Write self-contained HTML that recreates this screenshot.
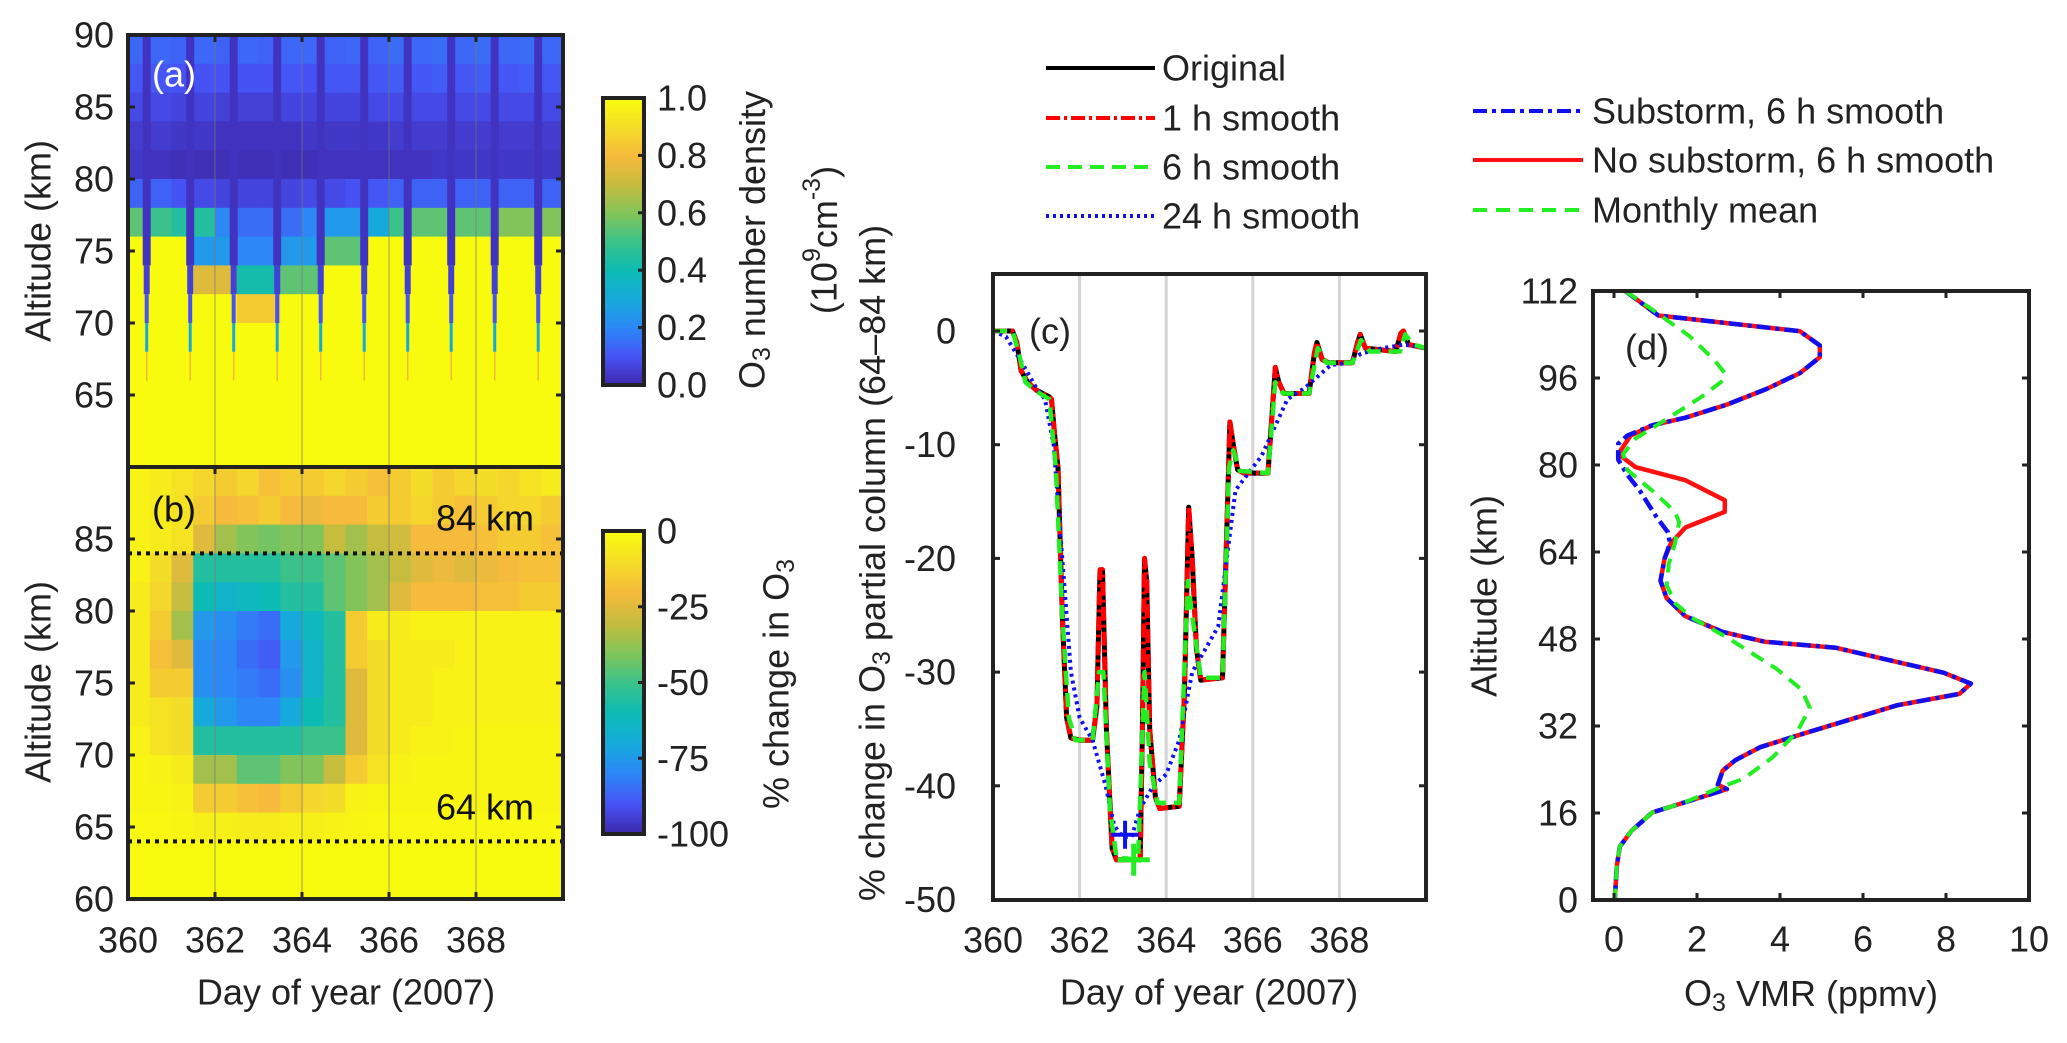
<!DOCTYPE html>
<html><head><meta charset="utf-8"><style>
html,body{margin:0;padding:0;background:#fff;}
svg{display:block;font-family:"Liberation Sans",Arial,sans-serif;}
</style></head><body>
<svg id="fig" width="2067" height="1043" viewBox="0 0 2067 1043" xmlns="http://www.w3.org/2000/svg">
<g id="gA"></g>
<g id="gB"></g>
<g id="gC"></g>
<g id="gD"></g>
<g id="gL"></g>
</svg>
<script>
// ---------- Panel (a) data: O3 number density, rows from 88-90 km down to 60-62 km, half-day columns ----------
const aAltRows=[88,86,84,82,80,78,76,74,72,70,68,66,64,62,60];
const aRow88=[0.14,0.14,0.13,0.14,0.13,0.14,0.13,0.14,0.14,0.13,0.14,0.13,0.15,0.14,0.15,0.14,0.15,0.14,0.15,0.14];
const aRow86=[0.11,0.11,0.1,0.1,0.1,0.1,0.1,0.11,0.1,0.11,0.11,0.11,0.12,0.11,0.12,0.11,0.12,0.11,0.12,0.11];
const aRow84=[0.08,0.08,0.07,0.07,0.06,0.06,0.06,0.07,0.07,0.07,0.07,0.08,0.08,0.08,0.08,0.08,0.08,0.08,0.08,0.08];
const aRow82=[0.05,0.05,0.04,0.04,0.03,0.03,0.03,0.03,0.04,0.04,0.04,0.04,0.05,0.05,0.05,0.05,0.05,0.05,0.05,0.05];
const aRow80=[0.04,0.03,0.02,0.02,0.02,0.02,0.02,0.02,0.02,0.03,0.03,0.03,0.03,0.03,0.04,0.04,0.04,0.04,0.04,0.04];
const aRow78=[0.13,0.13,0.1,0.08,0.07,0.07,0.07,0.07,0.08,0.08,0.1,0.11,0.13,0.13,0.13,0.13,0.13,0.13,0.13,0.13];
const aRow76=[0.55,0.5,0.45,0.45,0.2,0.15,0.15,0.15,0.2,0.25,0.25,0.3,0.5,0.55,0.55,0.55,0.55,0.6,0.6,0.6];
const aRow74=[1,1,1,0.25,0.25,0.2,0.2,0.25,0.25,0.55,0.55,1,1,1,1,1,1,1,1,1];
const aRow72=[1,1,1,0.75,0.75,0.42,0.42,0.55,0.55,1,1,1,1,1,1,1,1,1,1,1];
const aRow70=[1,1,1,1,1,0.85,0.85,1,1,1,1,1,1,1,1,1,1,1,1,1];
const aRowLow=[1,1,1,1,1,1,1,1,1,1,1,1,1,1,1,1,1,1,1,1];
const aRows=[aRow88,aRow86,aRow84,aRow82,aRow80,aRow78,aRow76,aRow74,aRow72,aRow70,aRowLow,aRowLow,aRowLow,aRowLow,aRowLow];
const nightDays=[360.43,361.43,362.43,363.43,364.43,365.43,366.43,367.43,368.43,369.43];
const aTicks=[65,70,75,80,85,90];
const cbATicks=["0.0","0.2","0.4","0.6","0.8","1.0"];

// ---------- Panel (b) data: % change in O3 ----------
const bRow88=[-3,-5,-8,-12,-15,-12,-18,-15,-15,-12,-15,-18,-15,-10,-15,-12,-10,-12,-8,-5];
const bRow86=[-3,-5,-8,-15,-20,-18,-15,-20,-22,-20,-20,-15,-15,-12,-15,-18,-15,-12,-12,-15];
const bRow84=[-3,-5,-8,-25,-35,-40,-42,-40,-40,-30,-35,-30,-28,-20,-20,-20,-18,-15,-15,-18];
const bRow82=[-3,-10,-25,-55,-55,-55,-55,-50,-50,-45,-40,-35,-30,-25,-22,-25,-22,-20,-18,-18];
const bRow80=[-5,-12,-30,-60,-65,-62,-60,-55,-55,-45,-40,-35,-25,-20,-20,-20,-18,-18,-15,-15];
const bRow78=[-5,-15,-35,-75,-78,-82,-85,-70,-62,-55,-15,-5,-5,-3,-3,-3,-3,-3,-3,-3];
const bRow76=[-5,-18,-25,-78,-80,-85,-88,-75,-65,-55,-15,-10,-5,-5,-5,-3,-3,-3,-3,-3];
const bRow74=[-5,-15,-15,-78,-80,-82,-85,-78,-65,-55,-25,-10,-5,-5,-3,-3,-3,-3,-3,-3];
const bRow72=[-5,-8,-10,-70,-75,-80,-80,-70,-60,-55,-25,-10,-5,-5,-3,-3,-3,-3,-3,-3];
const bRow70=[-3,-8,-10,-55,-55,-55,-55,-55,-50,-50,-25,-10,-5,-3,-3,-2,-2,-2,-2,-2];
const bRow68=[-2,-3,-5,-35,-35,-45,-45,-40,-40,-30,-15,-8,-3,-2,-2,-2,-2,-2,-2,-2];
const bRow66=[-2,-2,-3,-15,-15,-18,-20,-15,-12,-10,-3,-2,-2,-2,-2,-2,-2,-2,-2,-2];
const bRow64=[-1,-1,-2,-4,-4,-5,-5,-4,-4,-3,-2,-1,-1,-1,-1,-1,-1,-1,-1,-1];
const bRowLow=[0,0,0,0,0,0,0,0,0,0,0,0,0,0,0,0,0,0,0,0];
const bRows=[bRow88,bRow86,bRow84,bRow82,bRow80,bRow78,bRow76,bRow74,bRow72,bRow70,bRow68,bRow66,bRow64,bRowLow,bRowLow];
const bTicks=[60,65,70,75,80,85];
const dayTicks=[360,362,364,366,368];
const cbBTicks=["-100","-75","-50","-25","0"];

// ---------- Panel (c) data ----------
const origDays=[360,360.45,360.55,360.65,360.8,361,361.3,361.35,361.42,361.5,361.6,361.7,361.8,362,362.3,362.4,362.47,362.53,362.62,362.75,362.85,363.4,363.45,363.5,363.55,363.62,363.75,363.85,364.3,364.42,364.52,364.6,364.7,364.8,365.3,365.38,365.47,365.55,365.65,365.8,366.35,366.45,366.52,366.6,366.72,367.3,367.42,367.48,367.6,367.75,368.3,368.42,368.48,368.6,369.3,369.42,369.48,369.6,370];
const origVals=[0,0,-1,-3.5,-4.5,-5.2,-5.8,-6,-9,-12,-25,-34,-35.8,-36,-36,-33,-21,-21,-35,-45.5,-46.5,-46.5,-35,-20,-22,-35,-41,-42,-41.8,-32,-15.5,-20,-28,-30.7,-30.5,-20,-8,-10,-12.2,-12.5,-12.5,-7,-3.2,-4.5,-5.5,-5.5,-2,-1,-2.5,-2.8,-2.8,-1,-0.3,-1.5,-1.8,-0.2,0,-1.2,-1.5];
const h1Days=origDays.slice();
const h1Vals=[0,0,-1,-3.5,-4.5,-5.2,-5.8,-6,-9,-12,-25,-34,-35.8,-36,-36,-33,-21,-21,-35,-45.5,-46.5,-46.5,-35,-20,-22,-35,-41,-42,-41.8,-32,-15.5,-20,-28,-30.7,-30.5,-20,-8,-10,-12.2,-12.5,-12.5,-7,-3.2,-4.5,-5.5,-5.5,-2,-1,-2.5,-2.8,-2.8,-1,-0.3,-1.5,-1.8,-0.2,0,-1.2,-1.5];
const h6Days=[360,360.45,360.6,360.75,361,361.3,361.45,361.6,361.75,361.9,362.3,362.45,362.55,362.7,362.85,363.35,363.5,363.62,363.8,364.3,364.5,364.6,364.8,365.3,365.45,365.55,365.7,366.35,366.52,366.7,367.3,367.5,367.7,368.3,368.5,368.7,369.4,369.52,369.7,370];
const h6Vals=[0,0,-2,-4.5,-5.3,-6,-12,-25,-34,-36,-36,-30,-30,-42,-46.3,-46.5,-30,-38,-41.5,-41.5,-22,-25,-30.5,-30.5,-12,-10.5,-12.3,-12.5,-4.5,-5.5,-5.5,-1.5,-2.8,-2.8,-0.8,-1.8,-1.8,-0.3,-1.2,-1.5];
const h24Days=[360,360.3,360.7,361,361.2,361.4,361.6,361.8,362,362.3,362.6,362.8,363,363.2,363.4,363.7,364,364.3,364.6,364.9,365.2,365.4,365.6,365.9,366.2,366.5,366.8,367.2,367.5,367.8,368.2,368.5,369,369.5,370];
const h24Vals=[0,-0.5,-3,-5,-6,-10,-20,-30,-34,-36,-40,-43.5,-44.5,-44.5,-42,-40,-39,-36,-30,-28,-26,-20,-14,-12.5,-11,-8.5,-6,-5,-4,-3,-2.8,-2,-1.5,-1.2,-1.5];
const minMarker24=[363.05,-44.3];
const minMarker6=[363.25,-46.5];
const cTicks=[-50,-40,-30,-20,-10,0];

// ---------- Panel (d) data ----------
const subAlt=[112,107.5,104.6,102,99.8,96.9,94,91.1,88.7,87.3,85.4,83.9,81,78.2,75.3,70.5,67.6,65.6,62.8,58.7,55.5,52.2,49.3,47.5,46.4,41.8,39.8,37.9,35.8,30.5,28.1,25.7,23.8,21.2,20.4,18,16.1,12.7,9.8,6.4,0.2];
const subVmr=[0.27,1.07,4.48,4.96,4.96,4.48,3.68,2.72,1.72,0.92,0.32,0.1,0.1,0.32,0.62,1.02,1.3,1.35,1.22,1.12,1.27,1.72,2.62,3.63,5.34,7.94,8.6,8.32,6.82,4.52,3.52,2.92,2.62,2.5,2.72,1.72,0.92,0.42,0.14,0.07,0.02];
const noSubAlt=[112,107.5,104.6,102,99.8,96.9,94,91.1,88.7,87.3,85.4,82,79.6,77.2,73.5,71.4,68.5,65.6,62.8,58.7,55.5,52.2,49.3,47.5,46.4,41.8,39.8,37.9,35.8,30.5,28.1,25.7,23.8,21.2,20.4,18,16.1,12.7,9.8,6.4,0.2];
const noSubVmr=[0.27,1.07,4.48,4.96,4.96,4.48,3.68,2.72,1.72,0.92,0.4,0.1,0.52,1.72,2.67,2.67,1.72,1.37,1.22,1.12,1.27,1.72,2.62,3.63,5.34,7.94,8.6,8.32,6.82,4.52,3.52,2.92,2.62,2.5,2.72,1.72,0.92,0.42,0.14,0.07,0.02];
const meanAlt=[112,108.6,103.7,99.3,96.9,95.5,92.6,88.7,84.9,82,79.1,75.3,71.4,69.5,65.6,61.8,57.9,54.6,51.7,48.3,42.5,38.7,35.3,31,26.2,22.3,20.6,18,16.1,12.7,9.8,6.4,0.2];
const meanVmr=[0.27,0.92,1.82,2.42,2.67,2.62,2.12,1.32,0.52,0.22,0.32,0.92,1.47,1.57,1.47,1.32,1.27,1.47,1.92,2.72,3.92,4.52,4.72,4.42,3.82,3.12,2.52,1.72,0.92,0.42,0.14,0.07,0.02];
const dYTicks=[0,16,32,48,64,80,96,112];
const dXTicks=[0,2,4,6,8,10];

// ---------- helpers ----------
const NS="http://www.w3.org/2000/svg";
const FS=36;
function mk(tag,attrs,parent){const e=document.createElementNS(NS,tag);for(const k in attrs)e.setAttribute(k,attrs[k]);parent.appendChild(e);return e;}
const PAR=[[0,[62,38,168]],[0.1,[71,82,245]],[0.2,[45,135,247]],[0.3,[22,170,220]],[0.4,[12,187,180]],[0.5,[58,194,138]],[0.6,[130,196,90]],[0.7,[198,188,62]],[0.8,[246,186,60]],[0.9,[244,221,40]],[1,[249,251,14]]];
function parula(t){t=Math.max(0,Math.min(1,t));for(let i=1;i<PAR.length;i++){if(t<=PAR[i][0]){const a=PAR[i-1],b=PAR[i];const f=(t-a[0])/(b[0]-a[0]);const c=a[1].map((v,j)=>Math.round(v+(b[1][j]-v)*f));return "rgb("+c.join(",")+")";}}return "rgb(249,251,14)";}
function txt(parent,x,y,s,opts){const e=mk("text",Object.assign({x:x,y:y,"font-size":FS,fill:"#222","dominant-baseline":"central"},opts||{}),parent);e.textContent=s;return e;}

const gA=document.getElementById("gA"),gB=document.getElementById("gB"),gC=document.getElementById("gC"),gD=document.getElementById("gD"),gL=document.getElementById("gL");

const X0=128,X1=563;
function xAB(d){return X0+(d-360)*(X1-X0)/10;}
function yAlt(top,alt){return top+(90-alt)*14.4;}

// ---------- Panel a ----------
(function(){
 const top=35;
 aRows.forEach((row,ri)=>{row.forEach((v,ci)=>{
  const r=mk("rect",{x:xAB(360+ci*0.5),y:yAlt(top,aAltRows[ri]+2),width:(X1-X0)/20+0.6,height:14.4*2+0.6,fill:parula(v)},gA);
  
  
 });});
 nightDays.forEach(d=>{
  const segs=[[90,74,8,0.03],[74,72,6,0.06],[72,70,4,0.1],[70,68,3,0.3],[68,66,1.5,0.78]];
  segs.forEach(s=>{
   const r=mk("rect",{x:xAB(d)-s[2]/2,y:yAlt(top,s[0]),width:s[2],height:(s[0]-s[1])*14.4,fill:parula(s[3])},gA);
   
   
  });
 });
 dayTicks.slice(1).forEach(d=>{const l=mk("line",{x1:xAB(d),x2:xAB(d),y1:top,y2:top+432,stroke:"rgba(120,120,120,0.35)","stroke-width":2},gA);
  
  });
 const b=mk("rect",{x:X0,y:top,width:X1-X0,height:432,fill:"none",stroke:"#222","stroke-width":4},gA);
 
 
 aTicks.forEach(t=>{const y=yAlt(top,t);
  mk("line",{x1:X0,x2:X0+7,y1:y,y2:y,stroke:"#222","stroke-width":3},gA);mk("line",{x1:X1-7,x2:X1,y1:y,y2:y,stroke:"#222","stroke-width":3},gA);
  const e=txt(gA,114,y,String(t),{"text-anchor":"end"});
  
  });
 dayTicks.slice(1).forEach(d=>{mk("line",{x1:xAB(d),x2:xAB(d),y1:top,y2:top+7,stroke:"#222","stroke-width":3},gA);});
 const lab=txt(gA,174,74,"(a)",{"text-anchor":"middle",fill:"#fff"});
 
 
 const yl=txt(gA,0,0,"Altitude (km)",{"text-anchor":"middle",transform:"translate(38,241) rotate(-90)"});
 
 
 const cy0=98,cy1=385;
 for(let i=0;i<100;i++){const r=mk("rect",{x:603,y:cy1-(i+1)*(cy1-cy0)/100,width:41,height:(cy1-cy0)/100+0.8,fill:parula((i+0.5)/100)},gA);
  
  }
 const cf=mk("rect",{x:603,y:cy0,width:41,height:cy1-cy0,fill:"none",stroke:"#222","stroke-width":4},gA);
 
 
 cbATicks.forEach((s,i)=>{const y=cy1-i*(cy1-cy0)/5;mk("line",{x1:638,x2:644,y1:y,y2:y,stroke:"#222","stroke-width":3},gA);
  const e=txt(gA,657,y,s,{});
  
  });
 const t1=mk("text",{x:0,y:0,"font-size":FS,fill:"#222","text-anchor":"middle","dominant-baseline":"central",transform:"translate(752,240) rotate(-90)"},gA);
 t1.innerHTML='O<tspan font-size="25" dy="10">3</tspan><tspan dy="-10"> number density</tspan>';
 
 
 const t2=mk("text",{x:0,y:0,"font-size":FS,fill:"#222","text-anchor":"middle","dominant-baseline":"central",transform:"translate(824,240) rotate(-90)"},gA);
 t2.innerHTML='(10<tspan font-size="25" dy="-12">9</tspan><tspan dy="12">cm</tspan><tspan font-size="25" dy="-12">-3</tspan><tspan dy="12">)</tspan>';
 
 
})();

// ---------- Panel b ----------
(function(){
 const top=467;
 const cb=v=>parula(1+v/100);
 bRows.forEach((row,ri)=>{row.forEach((v,ci)=>{
  const r=mk("rect",{x:xAB(360+ci*0.5),y:yAlt(top,aAltRows[ri]+2),width:(X1-X0)/20+0.6,height:14.4*2+0.6,fill:cb(v)},gB);
  
  
 });});
 dayTicks.slice(1).forEach(d=>{const l=mk("line",{x1:xAB(d),x2:xAB(d),y1:top,y2:top+432,stroke:"rgba(120,120,120,0.35)","stroke-width":2},gB);
  
  });
 [84,64].forEach(a=>{const l=mk("line",{x1:X0,x2:X1,y1:yAlt(top,a),y2:yAlt(top,a),stroke:"#111","stroke-width":4,"stroke-dasharray":"4,5"},gB);
  
  });
 const k1=txt(gB,534,518,"84 km",{"text-anchor":"end",fill:"#111"});
 
 
 const k2=txt(gB,534,807,"64 km",{"text-anchor":"end",fill:"#111"});
 
 
 const b=mk("rect",{x:X0,y:top,width:X1-X0,height:432,fill:"none",stroke:"#222","stroke-width":4},gB);
 
 
 bTicks.forEach(t=>{const y=yAlt(top,t);
  mk("line",{x1:X0,x2:X0+7,y1:y,y2:y,stroke:"#222","stroke-width":3},gB);mk("line",{x1:X1-7,x2:X1,y1:y,y2:y,stroke:"#222","stroke-width":3},gB);
  const e=txt(gB,114,y,String(t),{"text-anchor":"end"});
  
  });
 dayTicks.forEach(d=>{mk("line",{x1:xAB(d),x2:xAB(d),y1:top,y2:top+7,stroke:"#222","stroke-width":3},gB);mk("line",{x1:xAB(d),x2:xAB(d),y1:top+425,y2:top+432,stroke:"#222","stroke-width":3},gB);
  const e=txt(gB,xAB(d),940,String(d),{"text-anchor":"middle"});
  
  });
 const lab=txt(gB,174,509,"(b)",{"text-anchor":"middle",fill:"#111"});
 
 
 const yl=txt(gB,0,0,"Altitude (km)",{"text-anchor":"middle",transform:"translate(38,682) rotate(-90)"});
 
 
 const xl=txt(gB,346,992,"Day of year (2007)",{"text-anchor":"middle"});
 
 
 const cy0=531,cy1=834;
 for(let i=0;i<100;i++){const r=mk("rect",{x:603,y:cy1-(i+1)*(cy1-cy0)/100,width:41,height:(cy1-cy0)/100+0.8,fill:parula((i+0.5)/100)},gB);
  
  }
 const cf=mk("rect",{x:603,y:cy0,width:41,height:cy1-cy0,fill:"none",stroke:"#222","stroke-width":4},gB);
 
 
 cbBTicks.forEach((s,i)=>{const y=cy1-i*(cy1-cy0)/4;mk("line",{x1:638,x2:644,y1:y,y2:y,stroke:"#222","stroke-width":3},gB);
  const e=txt(gB,657,y,s,{});
  
  });
 const t1=mk("text",{x:0,y:0,"font-size":FS,fill:"#222","text-anchor":"middle","dominant-baseline":"central",transform:"translate(776,684) rotate(-90)"},gB);
 t1.innerHTML='% change in O<tspan font-size="25" dy="10">3</tspan>';
 
 
})();

// ---------- Panel c ----------
(function(){
 const L=993,R=1426,T=274,B=900;
 const xC=d=>L+(d-360)*(R-L)/10;
 const yC=v=>331-v*11.37;
 dayTicks.slice(1).forEach(d=>{const l=mk("line",{x1:xC(d),x2:xC(d),y1:T,y2:B,stroke:"#d4d4d4","stroke-width":3},gC);
  
  });
 function path(days,vals,attrs,name){let d="";days.forEach((t,i)=>{d+=(i?"L":"M")+xC(t).toFixed(1)+","+yC(vals[i]).toFixed(1);});
  const p=mk("path",Object.assign({d:d,fill:"none","stroke-linejoin":"round"},attrs),gC);
  
  }
 path(origDays,origVals,{stroke:"#000","stroke-width":5},"series-original");
 path(h1Days,h1Vals,{stroke:"#ff0000","stroke-width":5,"stroke-dasharray":"14,4,3,4"},"series-1h-smooth");
 path(h24Days,h24Vals,{stroke:"#1010ee","stroke-width":4,"stroke-dasharray":"3,4"},"series-24h-smooth");
 path(h6Days,h6Vals,{stroke:"#22ee22","stroke-width":4.5,"stroke-dasharray":"14,8"},"series-6h-smooth");
 const m1=mk("path",{d:"M"+(xC(minMarker24[0])-14)+","+yC(minMarker24[1])+"h28M"+xC(minMarker24[0])+","+(yC(minMarker24[1])-14)+"v28",stroke:"#1010ee","stroke-width":4},gC);
 
 
 const m2=mk("path",{d:"M"+(xC(minMarker6[0])-16)+","+yC(minMarker6[1])+"h32M"+xC(minMarker6[0])+","+(yC(minMarker6[1])-16)+"v32",stroke:"#22ee22","stroke-width":5},gC);
 
 
 const b=mk("rect",{x:L,y:T,width:R-L,height:B-T,fill:"none",stroke:"#222","stroke-width":4},gC);
 
 
 cTicks.forEach(t=>{const y=yC(t);mk("line",{x1:L,x2:L+7,y1:y,y2:y,stroke:"#222","stroke-width":3},gC);mk("line",{x1:R-7,x2:R,y1:y,y2:y,stroke:"#222","stroke-width":3},gC);
  const e=txt(gC,956,y,String(t),{"text-anchor":"end"});
  
  });
 dayTicks.forEach(d=>{const e=txt(gC,xC(d),940,String(d),{"text-anchor":"middle"});
  
  });
 const lab=txt(gC,1050,331,"(c)",{"text-anchor":"middle"});
 
 
 const xl=txt(gC,1209,992,"Day of year (2007)",{"text-anchor":"middle"});
 
 
 const yl=mk("text",{x:0,y:0,"font-size":FS,fill:"#222","text-anchor":"middle","dominant-baseline":"central",transform:"translate(872,563) rotate(-90)"},gC);
 yl.innerHTML='% change in O<tspan font-size="25" dy="10">3</tspan><tspan dy="-10"> partial column (64–84 km)</tspan>';
 
 
})();

// ---------- Panel d ----------
(function(){
 const L=1593,R=2029,T=291,B=900;
 const xD=v=>1614+v*41.5;
 const yD=a=>B-a*(B-T)/112;
 function path(xs,ys,attrs,name){let d="";xs.forEach((v,i)=>{d+=(i?"L":"M")+xD(v).toFixed(1)+","+yD(ys[i]).toFixed(1);});
  const p=mk("path",Object.assign({d:d,fill:"none","stroke-linejoin":"round"},attrs),gD);
  
  }
 path(noSubVmr,noSubAlt,{stroke:"#ff1010","stroke-width":4.5},"series-no-substorm");
 path(subVmr,subAlt,{stroke:"#1010ee","stroke-width":4.5,"stroke-dasharray":"14,5,4,5"},"series-substorm");
 path(meanVmr,meanAlt,{stroke:"#22ee22","stroke-width":4,"stroke-dasharray":"14,9"},"series-monthly-mean");
 const b=mk("rect",{x:L,y:T,width:R-L,height:B-T,fill:"none",stroke:"#222","stroke-width":4},gD);
 
 
 dYTicks.forEach(t=>{const y=yD(t);mk("line",{x1:L,x2:L+7,y1:y,y2:y,stroke:"#222","stroke-width":3},gD);mk("line",{x1:R-7,x2:R,y1:y,y2:y,stroke:"#222","stroke-width":3},gD);
  const e=txt(gD,1578,y,String(t),{"text-anchor":"end"});
  
  });
 dXTicks.forEach(t=>{const x=xD(t);mk("line",{x1:x,x2:x,y1:B-7,y2:B,stroke:"#222","stroke-width":3},gD);mk("line",{x1:x,x2:x,y1:T,y2:T+7,stroke:"#222","stroke-width":3},gD);
  const e=txt(gD,x,939,String(t),{"text-anchor":"middle"});
  
  });
 const lab=txt(gD,1647,347,"(d)",{"text-anchor":"middle"});
 
 
 const yl=txt(gD,0,0,"Altitude (km)",{"text-anchor":"middle",transform:"translate(1484,596) rotate(-90)"});
 
 
 const xl=mk("text",{x:1811,y:993,"font-size":FS,fill:"#222","text-anchor":"middle","dominant-baseline":"central"},gD);
 xl.innerHTML='O<tspan font-size="25" dy="10">3</tspan><tspan dy="-10"> VMR (ppmv)</tspan>';
 
 
})();

// ---------- Legends ----------
const legC=[["Original",{stroke:"#000"}],["1 h smooth",{stroke:"#ff0000","stroke-dasharray":"14,4,3,4"}],["6 h smooth",{stroke:"#22ee22","stroke-dasharray":"14,8"}],["24 h smooth",{stroke:"#1010ee","stroke-dasharray":"3,4"}]];
const legCY=[68,118,167,216];
legC.forEach((it,i)=>{const y=legCY[i];
 const l=mk("line",Object.assign({x1:1046,x2:1155,y1:y,y2:y,"stroke-width":4},it[1]),gL);
 
 
 const e=txt(gL,1162,y,it[0],{});
 
 });
const legD=[["Substorm, 6 h smooth",{stroke:"#1010ee","stroke-dasharray":"14,5,4,5"}],["No substorm, 6 h smooth",{stroke:"#ff1010"}],["Monthly mean",{stroke:"#22ee22","stroke-dasharray":"14,9"}]];
const legDY=[111,160,210];
legD.forEach((it,i)=>{const y=legDY[i];
 const l=mk("line",Object.assign({x1:1473,x2:1583,y1:y,y2:y,"stroke-width":4},it[1]),gL);
 
 
 const e=txt(gL,1592,y,it[0],{});
 
 });
</script>
</body></html>
